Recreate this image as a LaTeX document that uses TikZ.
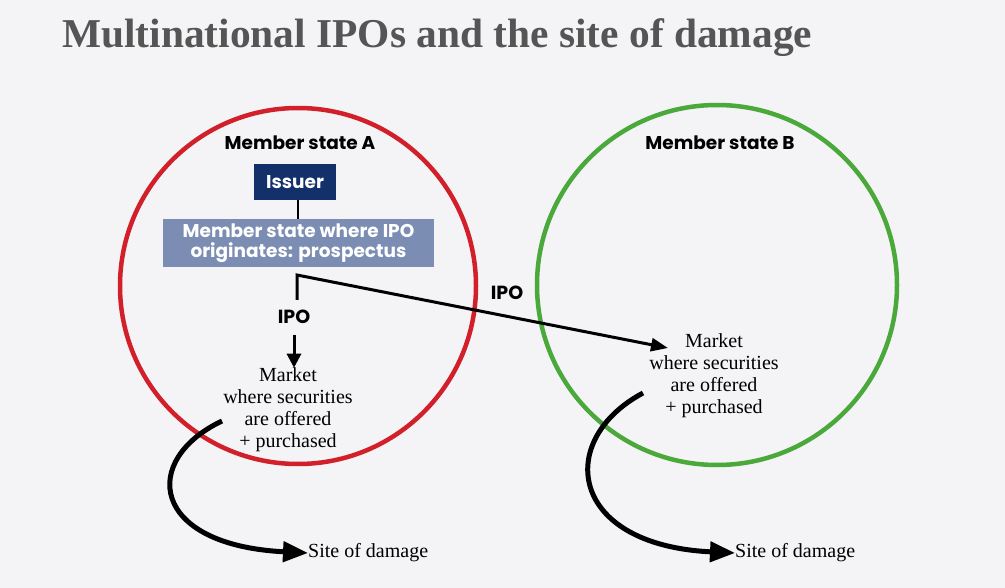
\documentclass[tikz,border=0pt]{standalone}
\usepackage{fontspec}
\setmainfont{Liberation Serif}
\newfontfamily\popp{Poppins}
\usetikzlibrary{arrows.meta}
\definecolor{bgc}{HTML}{F4F4F7}
\definecolor{titlec}{HTML}{555555}
\definecolor{redc}{HTML}{D2202A}
\definecolor{greenc}{HTML}{4BA93C}
\definecolor{navyc}{HTML}{13306B}
\definecolor{slatec}{HTML}{7B8DB3}
\tikzset{
  statecircle/.style={line width=4.5pt},
  statelabel/.style={font=\popp\bfseries\fontsize{18.5}{20}\selectfont, inner sep=0pt},
  ipolabel/.style={font=\popp\bfseries\fontsize{19}{20}\selectfont, inner sep=0pt},
  boxnode/.style={font=\popp\bfseries\fontsize{18.5}{19.5}\selectfont, text=white, align=center, inner sep=0pt},
  markettext/.style={font=\fontsize{20}{22}\selectfont, align=center, inner sep=0pt},
  sitetext/.style={font=\fontsize{20}{22}\selectfont, inner sep=0pt, anchor=west},
  flow/.style={line width=3pt, -{Triangle[length=17pt,width=13pt]}},
  damage/.style={line width=5pt, -{Triangle[length=25pt,width=20pt]}},
}
\begin{document}
\begin{tikzpicture}[x=1pt,y=-1pt]
\fill[bgc] (0,0) rectangle (1005,588);
\useasboundingbox (0,0) rectangle (1005,588);
% title
\node[anchor=base west, inner sep=0pt, text=titlec, font=\bfseries\fontsize{41}{46}\selectfont] (title) at (62,48) {\scalebox{1.01}[1]{Multinational IPOs and the site of damage}};
% circles
\draw[statecircle, redc] (298,286) circle[radius=178];
\draw[statecircle, greenc] (717,285) circle[radius=180];
\node[statelabel] (stA) at (300,143) {Member state A};
\node[statelabel] (stB) at (720,143) {Member state B};
% issuer and prospectus boxes
\node[boxnode, fill=navyc, minimum width=82pt, minimum height=36pt] (issuer) at (295,182) {Issuer};
\node[boxnode, fill=slatec, minimum width=271pt, minimum height=48pt] (prosp) at (298.5,243) {Member state where IPO\\originates: prospectus};
\draw[line width=1.3pt] (issuer.south -| 298,0) -- (prosp.north -| 298,0);
% IPO flows
\coordinate (ipostart) at (297,300);
\coordinate (ipocorner) at (297,275);
\coordinate (ipoB) at (668,348);
\node[ipolabel] (ipoA) at (294,317) {IPO};
\node[ipolabel] (ipoBl) at (507,293) {IPO};
\draw[flow] (ipostart) -- (ipocorner) -- (ipoB);
% markets
\node[markettext] (mktA) at (288,410) {Market\\where securities\\are offered\\+ purchased};
\node[markettext] (mktB) at (714,376) {Market\\where securities\\are offered\\+ purchased};
\draw[line width=3pt, -{Triangle[length=14pt,width=14pt]}] (ipoA.south |- 0,335) -- (mktA.north -| ipoA.south);
% damage
\node[sitetext] (siteA) at (308,553) {Site of damage};
\node[sitetext] (siteB) at (735,553) {Site of damage};
\coordinate (dA) at (222,421);
\coordinate (dB) at (643,393);
\draw[damage] (dA) .. controls (140,460) and (150,545) .. (siteA.west);
\draw[damage] (dB) .. controls (555,440) and (568,545) .. (siteB.west);
\end{tikzpicture}
\end{document}
